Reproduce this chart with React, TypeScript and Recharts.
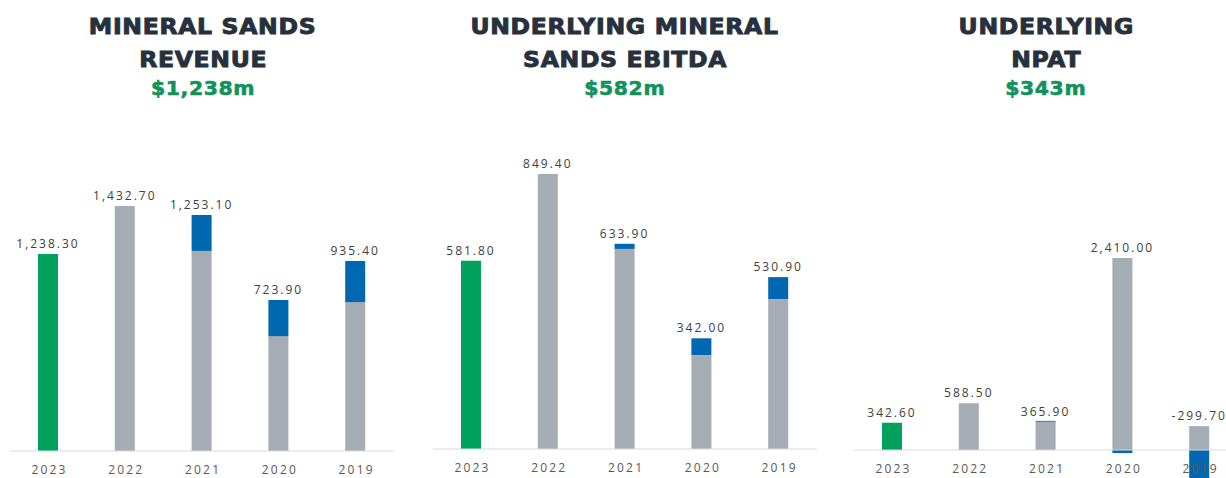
import React from 'react';
import { BarChart, Bar, XAxis, YAxis, Cell, LabelList, ReferenceLine } from 'recharts';

// ---------- data ----------
const years = ['2023', '2022', '2021', '2020', '2019'];

const revenueBase = [1152, 1432.7, 1170, 672, 871];
const revenueBlue = [0, 0, 210, 211, 240];
const revenueLabels = [1238.3, 1432.7, 1253.1, 723.9, 935.4];

const ebitdaBase = [581.8, 849.4, 618, 290, 463];
const ebitdaBlue = [0, 0, 16, 52, 68];
const ebitdaLabels = [581.8, 849.4, 633.9, 342.0, 530.9];

const npatBase = [342.6, 588.5, 355, 2410, 300];
const npatBlue = [0, 0, 11, -38, -599.7];
const npatLabels = [342.6, 588.5, 365.9, 2410.0, -299.7];

const titles = [
  ['MINERAL SANDS', 'REVENUE', '$1,238m'],
  ['UNDERLYING MINERAL', 'SANDS EBITDA', '$582m'],
  ['UNDERLYING', 'NPAT', '$343m'],
];

const GREEN = '#00A15C';
const GREY = '#A5ACB3';
const BLUE = '#0068B1';
const baseColors = [GREEN, GREY, GREY, GREY, GREY];

const build = (base: number[], blue: number[], labels: number[]) =>
  years.map((year, i) => ({ year, base: base[i], blue: blue[i], label: labels[i] }));

const revenueData = build(revenueBase, revenueBlue, revenueLabels);
const ebitdaData = build(ebitdaBase, ebitdaBlue, ebitdaLabels);
const npatData = build(npatBase, npatBlue, npatLabels);

const fmt = (v: number) =>
  v.toLocaleString('en-US', { minimumFractionDigits: 2, maximumFractionDigits: 2 });

const LABEL_FONT = "'Open Sans', sans-serif";
const LS = 2.2;
const VLS = 2.0;

const makeTick = (shift: number) => (props: any) => {
  const { x, y, payload } = props;
  return (
    <text
      x={x + LS / 2}
      y={y - shift + 22.5}
      textAnchor="middle"
      fill="#595959"
      fontSize={12}
      fontFamily={LABEL_FONT}
      letterSpacing={LS}
    >
      {payload.value}
    </text>
  );
};

// label drawn above the top of the stack; `show` picks which series carries it
const makeValueLabel = (show: (i: number) => boolean) => (p: any) => {
  if (!show(p.index)) return null;
  const vb = p.viewBox ?? p;
  const x = vb.x + vb.width / 2;
  const y = Math.min(vb.y, vb.y + vb.height) - 6;
  return (
    <text
      x={x}
      y={y}
      textAnchor="middle"
      fill="#404040"
      fontSize={12}
      fontFamily={LABEL_FONT}
      letterSpacing={VLS}
    >
      {fmt(Number(p.value))}
    </text>
  );
};

const Title = ({ lines, center }: { lines: string[]; center: number }) => {
  const common: React.CSSProperties = {
    position: 'absolute',
    left: center - 220,
    width: 440,
    textAlign: 'center',
    fontFamily: "'DejaVu Sans', sans-serif",
    fontWeight: 700,
    whiteSpace: 'nowrap',
  };
  const inner = (sx: number): React.CSSProperties => ({
    display: 'inline-block',
    transform: `scaleX(${sx})`,
    transformOrigin: '50% 50%',
  });
  const dark: React.CSSProperties = {
    ...common,
    fontSize: 21,
    lineHeight: '21px',
    letterSpacing: 0.6,
    color: '#27313D',
    WebkitTextStroke: '0.9px #27313D',
  };
  return (
    <>
      <div style={{ ...dark, top: 17 }}>
        <span style={inner(1.12)}>{lines[0]}</span>
      </div>
      <div style={{ ...dark, top: 50 }}>
        <span style={inner(1.12)}>{lines[1]}</span>
      </div>
      <div
        style={{
          ...common,
          top: 78,
          fontSize: 20,
          lineHeight: '20px',
          letterSpacing: 0.6,
          color: '#12925A',
          WebkitTextStroke: '0.6px #12925A',
        }}
      >
        <span style={inner(1.02)}>{lines[2]}</span>
      </div>
    </>
  );
};

export default function App() {
  // panel 3 geometry
  const p3Min = -1000;
  const p3Max = 3000;
  const p3Top = 211;
  const p3Bottom = 529.7;
  const p3Shift = ((0 - p3Min) / (p3Max - p3Min)) * (p3Bottom - p3Top);

  const always = () => true;
  const noBlue = (arr: number[]) => (i: number) => arr[i] === 0;

  return (
    <div
      style={{
        position: 'absolute',
        left: 0,
        top: 0,
        width: 1226,
        height: 478,
        overflow: 'hidden',
        background: '#ffffff',
      }}
    >
      <Title lines={titles[0]} center={203} />
      <Title lines={titles[1]} center={625} />
      <Title lines={titles[2]} center={1046} />

      {/* Panel 1 */}
      <div style={{ position: 'absolute', left: 0, top: 0 }}>
        <BarChart
          width={404}
          height={478}
          data={revenueData}
          margin={{ top: 177.4, right: 10, bottom: 0, left: 10 }}
          style={{ overflow: 'visible' }}
        >
          <XAxis
            dataKey="year"
            height={27}
            tickLine={false}
            tickSize={0}
            tickMargin={0}
            axisLine={{ stroke: '#D9D9D9' }}
            tick={makeTick(0)}
            interval={0}
          />
          <YAxis hide domain={[0, 1600]} />
          <Bar dataKey="base" stackId="s" barSize={20} isAnimationActive={false}>
            {revenueData.map((_, i) => (
              <Cell key={i} fill={baseColors[i]} />
            ))}
            <LabelList dataKey="label" content={makeValueLabel(noBlue(revenueBlue))} />
          </Bar>
          <Bar dataKey="blue" stackId="s" barSize={20} fill={BLUE} isAnimationActive={false}>
            <LabelList dataKey="label" content={makeValueLabel(always)} />
          </Bar>
        </BarChart>
      </div>

      {/* Panel 2 */}
      <div style={{ position: 'absolute', left: 423, top: 0 }}>
        <BarChart
          width={404}
          height={478}
          data={ebitdaData}
          margin={{ top: 125.3, right: 10, bottom: 0, left: 10 }}
          style={{ overflow: 'visible' }}
        >
          <XAxis
            dataKey="year"
            height={29}
            tickLine={false}
            tickSize={0}
            tickMargin={0}
            axisLine={{ stroke: '#D9D9D9' }}
            tick={makeTick(0)}
            interval={0}
          />
          <YAxis hide domain={[0, 1000]} />
          <Bar dataKey="base" stackId="s" barSize={20} isAnimationActive={false}>
            {ebitdaData.map((_, i) => (
              <Cell key={i} fill={baseColors[i]} />
            ))}
            <LabelList dataKey="label" content={makeValueLabel(noBlue(ebitdaBlue))} />
          </Bar>
          <Bar dataKey="blue" stackId="s" barSize={20} fill={BLUE} isAnimationActive={false}>
            <LabelList dataKey="label" content={makeValueLabel(always)} />
          </Bar>
        </BarChart>
      </div>

      {/* Panel 3 */}
      <div style={{ position: 'absolute', left: 844, top: 0 }}>
        <BarChart
          width={404}
          height={560}
          data={npatData}
          stackOffset="sign"
          margin={{ top: p3Top, right: 10, bottom: 0, left: 10 }}
          style={{ overflow: 'visible' }}
        >
          <XAxis
            dataKey="year"
            height={560 - p3Bottom}
            tickLine={false}
            tickSize={0}
            tickMargin={0}
            axisLine={false}
            tick={makeTick(p3Shift)}
            interval={0}
          />
          <YAxis hide domain={[p3Min, p3Max]} />
          <ReferenceLine y={0} stroke="#D9D9D9" />
          <Bar dataKey="base" stackId="s" barSize={20} isAnimationActive={false}>
            {npatData.map((_, i) => (
              <Cell key={i} fill={baseColors[i]} />
            ))}
            <LabelList dataKey="label" content={makeValueLabel(always)} />
          </Bar>
          <Bar dataKey="blue" stackId="s" barSize={20} fill={BLUE} isAnimationActive={false} />
        </BarChart>
      </div>
    </div>
  );
}
